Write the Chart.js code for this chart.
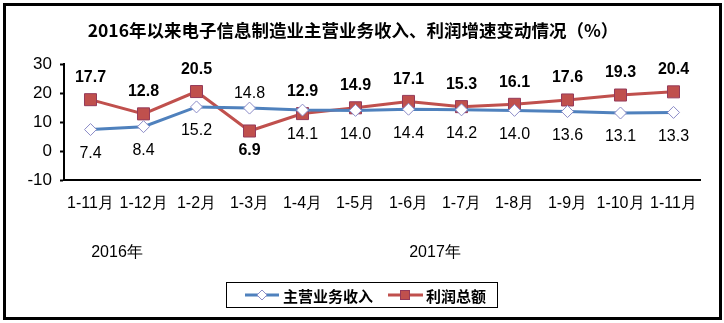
<!DOCTYPE html>
<html>
<head>
<meta charset="utf-8">
<script src="https://cdn.jsdelivr.net/npm/chart.js@4"></script>
<style>
  html, body { margin: 0; padding: 0; background: #fff; }
  #wrap { width: 724px; height: 323px; }
</style>
</head>
<body>
<div id="wrap"><canvas id="grafico"></canvas></div>
<script>
const titulo = '2016年以来电子信息制造业主营业务收入、利润增速变动情况（%）';
const meses = ['1-11月', '1-12月', '1-2月', '1-3月', '1-4月', '1-5月', '1-6月', '1-7月', '1-8月', '1-9月', '1-10月', '1-11月'];
const receita = [7.4, 8.4, 15.2, 14.8, 14.1, 14.0, 14.4, 14.2, 14.0, 13.6, 13.1, 13.3];
const lucro = [17.7, 12.8, 20.5, 6.9, 12.9, 14.9, 17.1, 15.3, 16.1, 17.6, 19.3, 20.4];
const anos = [{ texto: '2016年', idx: 0.5 }, { texto: '2017年', idx: 6.5 }];
const yTicks = [-10, 0, 10, 20, 30];

const azul = '#4F81BD';
const vermelho = '#C0504D';
const fonteNum = 'Arial, "Liberation Sans", sans-serif';
const fonteCJK = '"Noto Sans CJK SC", sans-serif';

// titulo, moldura, rotulos dos pontos, anos e legenda
const extras = {
  id: 'extras',
  beforeDraw(chart) {
    const ctx = chart.ctx;
    ctx.save();
    ctx.fillStyle = '#fff';
    ctx.fillRect(0, 0, chart.width, chart.height);
    ctx.restore();
  },
  afterDatasetsDraw(chart) {
    const ctx = chart.ctx;
    ctx.save();
    ctx.textAlign = 'center';
    ctx.textBaseline = 'middle';

    // so inverte onde o lucro cai bem abaixo da receita (1-3月)
    const invertido = i => receita[i] - lucro[i] > 3;

    const m0 = chart.getDatasetMeta(0);
    ctx.font = '16px ' + fonteNum;
    ctx.fillStyle = '#000';
    m0.data.forEach((p, i) => {
      const dy = invertido(i) ? -14 : 24;
      ctx.fillText(receita[i].toFixed(1), p.x, p.y + dy);
    });

    const m1 = chart.getDatasetMeta(1);
    ctx.font = 'bold 16px ' + fonteNum;
    m1.data.forEach((p, i) => {
      const dy = invertido(i) ? 20 : -22;
      ctx.fillText(lucro[i].toFixed(1), p.x, p.y + dy);
    });
    ctx.restore();
  },
  afterDraw(chart) {
    const ctx = chart.ctx;
    const x = chart.scales.x;
    ctx.save();

    // moldura
    ctx.strokeStyle = '#000';
    ctx.lineWidth = 3;
    ctx.strokeRect(4.5, 4.5, 716, 314);

    // titulo
    ctx.fillStyle = '#000';
    ctx.textAlign = 'center';
    ctx.textBaseline = 'middle';
    ctx.font = 'bold 17.5px ' + fonteCJK;
    ctx.fillText(titulo, 353, 30);

    // anos
    ctx.font = '16px ' + fonteNum;
    anos.forEach(a => {
      const px = x.getPixelForValue(a.idx);
      ctx.fillText(a.texto, px, 253);
    });

    // legenda
    ctx.lineWidth = 1;
    ctx.strokeStyle = '#000';
    ctx.strokeRect(226.5, 282.5, 271, 25);
    const yL = 295;
    const ds = chart.data.datasets;

    ctx.lineWidth = 3;
    ctx.strokeStyle = azul;
    ctx.beginPath(); ctx.moveTo(245, yL); ctx.lineTo(279, yL); ctx.stroke();
    ctx.beginPath();
    ctx.moveTo(262, yL - 5); ctx.lineTo(267, yL); ctx.lineTo(262, yL + 5); ctx.lineTo(257, yL); ctx.closePath();
    ctx.fillStyle = '#fff'; ctx.fill();
    ctx.lineWidth = 1; ctx.strokeStyle = '#8c8cc8'; ctx.stroke();

    ctx.lineWidth = 3;
    ctx.strokeStyle = vermelho;
    ctx.beginPath(); ctx.moveTo(388, yL); ctx.lineTo(423, yL); ctx.stroke();
    ctx.fillStyle = vermelho;
    ctx.fillRect(400, yL - 5, 10, 10);
    ctx.lineWidth = 1; ctx.strokeStyle = '#943a5a';
    ctx.strokeRect(400.5, yL - 4.5, 9, 9);

    ctx.fillStyle = '#000';
    ctx.textAlign = 'left';
    ctx.font = 'bold 15px ' + fonteCJK;
    ctx.fillText(ds[0].label, 283, yL + 1);
    ctx.fillText(ds[1].label, 426, yL + 1);
    ctx.restore();
  }
};

new Chart(document.getElementById('grafico'), {
  type: 'line',
  data: {
    labels: meses,
    datasets: [{
      label: '主营业务收入',
      data: receita,
      borderColor: azul,
      borderWidth: 3,
      pointStyle: 'rectRot',
      pointRadius: 6,
      pointBackgroundColor: '#fff',
      pointBorderColor: '#8c8cc8',
      pointBorderWidth: 1,
      tension: 0
    }, {
      label: '利润总额',
      data: lucro,
      borderColor: vermelho,
      borderWidth: 3,
      pointStyle: 'rect',
      pointRadius: 8.5,
      pointBackgroundColor: vermelho,
      pointBorderColor: '#943a5a',
      pointBorderWidth: 1,
      tension: 0
    }]
  },
  options: {
    responsive: true,
    maintainAspectRatio: false,
    animation: false,
    layout: { padding: { top: 64, right: 24, bottom: 0, left: 0 } },
    plugins: {
      legend: { display: false },
      tooltip: { enabled: false }
    },
    scales: {
      x: {
        offset: true,
        grid: { display: false, drawTicks: false, offset: true },
        border: { display: true, color: '#000', width: 2 },
        ticks: { color: '#000', font: { size: 16, family: fonteNum }, padding: 14, maxRotation: 0, autoSkip: false },
        afterFit(scale) { scale.height = 143; }
      },
      y: {
        min: -10,
        max: 30,
        afterBuildTicks(scale) { scale.ticks = yTicks.map(v => ({ value: v })); },
        grid: { drawOnChartArea: false, drawTicks: true, tickLength: 4, color: '#000', tickWidth: 2 },
        border: { display: true, color: '#000', width: 2 },
        ticks: { color: '#000', font: { size: 17, family: fonteNum }, padding: 8 },
        afterFit(scale) { scale.width = 64; }
      }
    }
  },
  plugins: [extras]
});
</script>
</body>
</html>
